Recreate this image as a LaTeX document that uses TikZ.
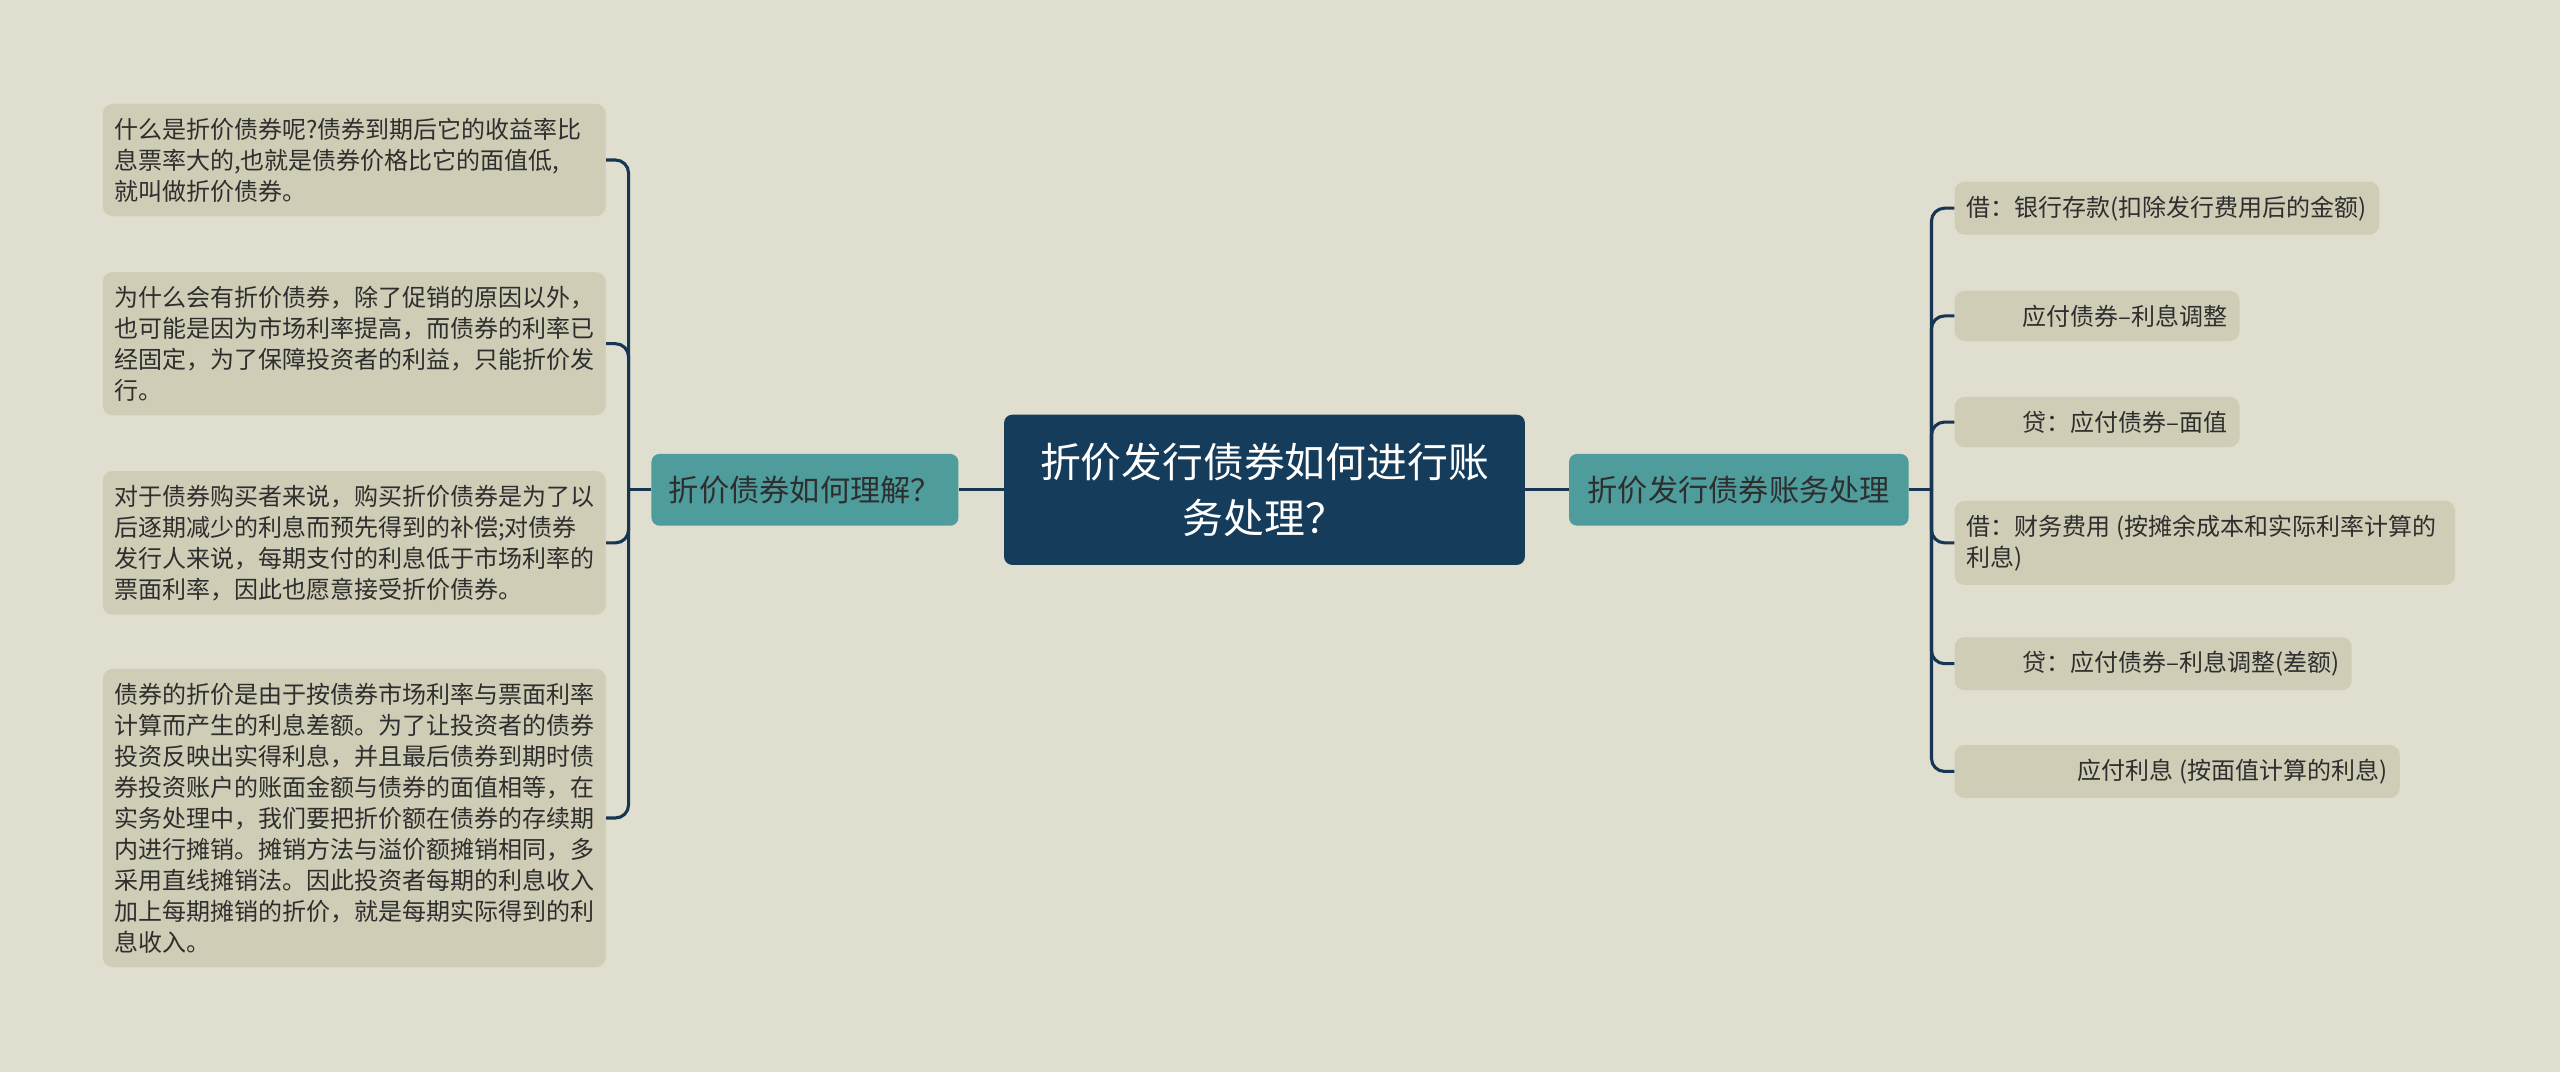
\documentclass[tikz,border=0pt]{standalone}
\usepackage{fontspec}
\setmainfont{Noto Sans CJK SC}
\definecolor{bgc}{HTML}{DFDECF}
\definecolor{leafc}{HTML}{CFCDB6}
\definecolor{rootc}{HTML}{153C5B}
\definecolor{subc}{HTML}{4E9C9C}
\definecolor{linec}{HTML}{163654}
\definecolor{txtc}{HTML}{2E2E2E}
\begin{document}
\begin{tikzpicture}[x=1pt, y=-1pt,
    every node/.style={font=\fontsize{14.7}{19}\selectfont, text=txtc},
    root/.style={fill=rootc, rounded corners=5pt, minimum width=319pt, minimum height=92pt,
      align=center, text=white, font=\fontsize{25}{34}\selectfont},
    sub/.style={fill=subc, rounded corners=5pt, minimum height=44pt, inner xsep=0pt,
      font=\fontsize{18.5}{22}\selectfont},
    leaf/.style={fill=leafc, rounded corners=6pt, align=left, inner xsep=7pt, inner ysep=8.5pt},
    conn/.style={draw=linec, line width=1.9pt}]
  \fill[bgc] (0,0) rectangle (1568,656.8);

  \node[root] (root) at (774.5,300) {折价发行债券如何进行账\\务处理？};
  \node[sub, minimum width=188pt] (lb) at (493,300) {折价债券如何理解？};
  \node[sub, minimum width=208pt] (rb) at (1065,300) {折价发行债券账务处理};

  % left side
  \node[leaf, text width=294pt] (l1) at (217,98) {什么是折价债券呢?债券到期后它的收益率比\\息票率大的,也就是债券价格比它的面值低,\\就叫做折价债券。};
  \node[leaf, text width=294pt] (l2) at (217,210.5) {为什么会有折价债券，除了促销的原因以外，\\也可能是因为市场利率提高，而债券的利率已\\经固定，为了保障投资者的利益，只能折价发\\行。};
  \node[leaf, text width=294pt] (l3) at (217,332.5) {对于债券购买者来说，购买折价债券是为了以\\后逐期减少的利息而预先得到的补偿;对债券\\发行人来说，每期支付的利息低于市场利率的\\票面利率，因此也愿意接受折价债券。};
  \node[leaf, text width=294pt] (l4) at (217,501) {债券的折价是由于按债券市场利率与票面利率\\计算而产生的利息差额。为了让投资者的债券\\投资反映出实得利息，并且最后债券到期时债\\券投资账户的账面金额与债券的面值相等，在\\实务处理中，我们要把折价额在债券的存续期\\内进行摊销。摊销方法与溢价额摊销相同，多\\采用直线摊销法。因此投资者每期的利息收入\\加上每期摊销的折价，就是每期实际得到的利\\息收入。};

  % right side
  \node[leaf, anchor=west, inner xsep=7.5pt] (r1) at (1197,127.5) {借：银行存款(扣除发行费用后的金额)};
  \node[leaf, anchor=west, inner xsep=7.5pt] (r2) at (1197,193.5) {\hspace*{34pt}应付债券–利息调整};
  \node[leaf, anchor=west, inner xsep=7.5pt] (r3) at (1197,258.5) {\hspace*{34pt}贷：应付债券–面值};
  \node[leaf, anchor=west, inner xsep=7.5pt] (r4) at (1197,332.5) {借：财务费用 (按摊余成本和实际利率计算的\hspace*{4pt}\\利息)};
  \node[leaf, anchor=west, inner xsep=7.5pt] (r5) at (1197,406.5) {\hspace*{34pt}贷：应付债券–利息调整(差额)};
  \node[leaf, anchor=west, inner xsep=7.5pt] (r6) at (1197,472.5) {\hspace*{68pt}应付利息 (按面值计算的利息)};

  \coordinate (ls) at (385,300);
  \coordinate (rs) at (1183,300);

  \draw[conn] (root) edge (lb);
  \draw[conn] (root) edge (rb);
  \draw[conn] (lb.west) -- (ls);
  \draw[conn] (rb.east) -- (rs);
  \foreach \n in {l1,l2,l3,l4}
    \draw[conn, rounded corners=8pt] (ls) |- (\n.east);
  \foreach \n in {r1,r2,r3,r4,r5,r6}
    \draw[conn, rounded corners=8pt] (rs) |- (\n.west);
\end{tikzpicture}
\end{document}
